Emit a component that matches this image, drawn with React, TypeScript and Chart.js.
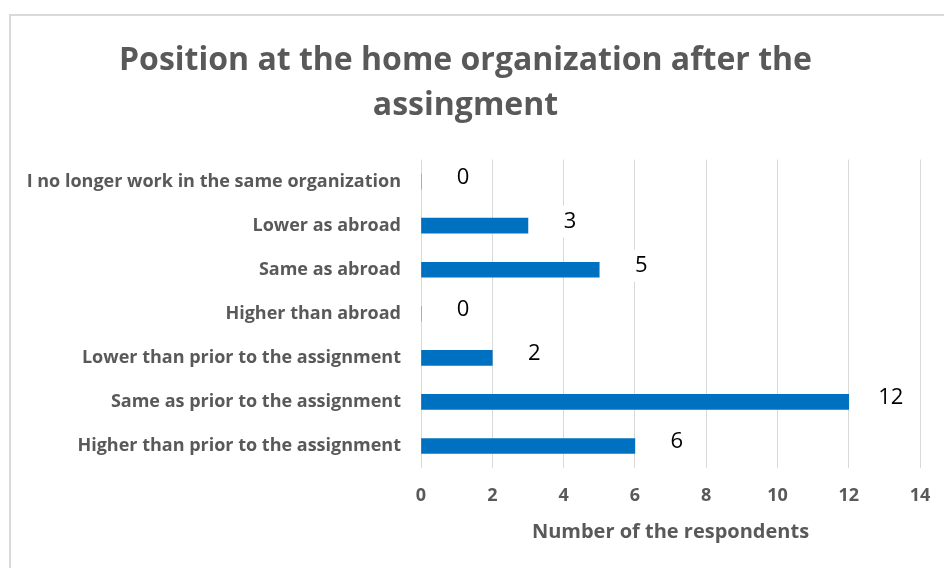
import React, { useEffect, useRef } from "react";
import { Chart, registerables } from "chart.js";

Chart.register(...registerables);

const categories: string[] = [
  "I no longer work in the same organization",
  "Lower as abroad",
  "Same as abroad",
  "Higher than abroad",
  "Lower than prior to the assignment",
  "Same as prior to the assignment",
  "Higher than prior to the assignment",
];

const respondents: number[] = [0, 3, 5, 0, 2, 12, 6];

const titleLines: string[] = ["Position at the home organization after the", "assingment"];
const axisTitle = "Number of the respondents";

const FONT = "'Open Sans', 'Noto Sans', sans-serif";
const GREY = "#595959";

const dataLabelPlugin = {
  id: "dataLabelBoxes",
  afterDatasetsDraw(chart: any) {
    const ctx = chart.ctx;
    const meta = chart.getDatasetMeta(0);
    const ds = chart.data.datasets[0];
    ctx.save();
    ctx.font = `22px ${FONT}`;
    ctx.textAlign = "center";
    ctx.textBaseline = "middle";
    meta.data.forEach((bar: any, i: number) => {
      const txt = String(ds.data[i]);
      const x = bar.x + 42;
      const y = bar.y - 4;
      const w = ctx.measureText(txt).width + 14;
      ctx.fillStyle = "#ffffff";
      ctx.fillRect(x - w / 2, y - 16, w, 32);
      ctx.fillStyle = "#000000";
      ctx.fillText(txt, x, y);
    });
    ctx.restore();
  },
};

export default function App() {
  const ref = useRef<HTMLCanvasElement | null>(null);

  useEffect(() => {
    if (!ref.current) return;
    const chart = new Chart(ref.current, {
      type: "bar",
      data: {
        labels: categories,
        datasets: [
          {
            data: respondents,
            backgroundColor: "#0070C0",
            borderWidth: 0,
            barThickness: 15,
          },
        ],
      },
      options: {
        indexAxis: "y",
        animation: false,
        responsive: false,
        maintainAspectRatio: false,
        layout: { padding: { left: 0, right: 39, top: 0, bottom: 24 } },
        plugins: {
          legend: { display: false },
          tooltip: { enabled: false },
          title: {
            display: true,
            text: titleLines,
            color: GREY,
            font: { family: FONT, size: 32, weight: "bold", lineHeight: 1.4 },
            padding: { top: 22.5, bottom: 31.5 },
          },
        },
        scales: {
          x: {
            min: 0,
            max: 14,
            ticks: {
              stepSize: 2,
              color: GREY,
              padding: 17,
              font: { family: FONT, size: 18, weight: "bold" },
            },
            grid: { color: "#d9d9d9", drawTicks: false, lineWidth: 1 },
            border: { display: false },
            title: {
              display: true,
              text: axisTitle,
              color: GREY,
              padding: { top: 14, bottom: 0 },
              font: { family: FONT, size: 20, weight: "bold" },
            },
            afterFit: (scale: any) => {
              scale.height = 76;
            },
          },
          y: {
            ticks: {
              color: GREY,
              padding: 20,
              font: { family: FONT, size: 18, weight: "bold" },
            },
            grid: { display: false, drawTicks: false },
            border: { display: false },
            afterFit: (scale: any) => {
              scale.width = 410;
            },
          },
        },
      },
      plugins: [dataLabelPlugin],
    });
    return () => chart.destroy();
  }, []);

  return (
    <div
      style={{
        position: "fixed",
        left: 0,
        top: 0,
        width: 944,
        height: 568,
        overflow: "hidden",
        background: "#ffffff",
      }}
    >
      <div
        style={{
          position: "absolute",
          left: 9,
          top: 14,
          width: 948,
          height: 570,
          borderLeft: "2px solid #d9d9d9",
          borderTop: "2px solid #d9d9d9",
          background: "#ffffff",
        }}
      >
        <canvas ref={ref} width={948} height={552} style={{ display: "block" }} />
      </div>
    </div>
  );
}
